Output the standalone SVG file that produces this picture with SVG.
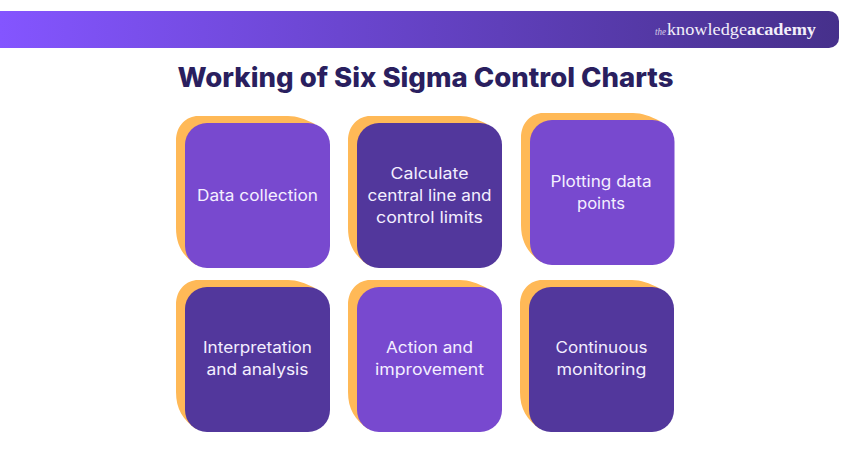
<svg xmlns="http://www.w3.org/2000/svg" width="850" height="450" viewBox="0 0 850 450">
<style>
.bk{fill:#ffb957}
.l{fill:#7849cf}
.d{fill:#52379c}
.t{font-family:"Inter","Liberation Sans",sans-serif;font-size:15.5px;fill:#f4efff;text-anchor:middle}
.logo{font-family:"Liberation Serif",serif;fill:#f3effa}
</style>
<defs>
<linearGradient id="g" x1="0" x2="1" y1="0" y2="0"><stop offset="0" stop-color="#8455ff"/><stop offset="1" stop-color="#46308b"/></linearGradient>
<path id="o" d="M-9 18C-9 2 2 -7 13 -7H103C112 -7 120 -4 130 1L60 70L11 142C-2 133 -9 122 -9 105Z"/>
</defs>
<rect width="850" height="450" fill="#fff"/>
<g id="banner">
<path d="M0 11H829a10 10 0 0 1 10 10V38a10 10 0 0 1 -10 10H0Z" fill="url(#g)"/>
<text class="logo" x="655" y="35" font-size="10" font-style="italic" opacity=".8" textLength="11" lengthAdjust="spacingAndGlyphs">the</text>
<text class="logo" x="667" y="35" font-size="17.5" textLength="80" lengthAdjust="spacingAndGlyphs">knowledge</text>
<text class="logo" x="747" y="35" font-size="17.5" font-weight="700" textLength="69" lengthAdjust="spacingAndGlyphs">academy</text>
</g>
<text id="title" x="425.5" y="87" font-family="Inter,'Liberation Sans',sans-serif" font-size="27" font-weight="800" fill="#2a1f5f" text-anchor="middle" textLength="496" lengthAdjust="spacingAndGlyphs">Working of Six Sigma Control Charts</text>
<g id="connectors"></g>
<g id="node1"><use href="#o" x="185" y="123" class="bk"/><rect x="185" y="123" width="145" height="145" rx="22" class="l"/><text class="t" x="257.5" y="201" textLength="121" lengthAdjust="spacingAndGlyphs">Data collection</text></g>
<g id="node2"><use href="#o" x="357" y="123" class="bk"/><rect x="357" y="123" width="145" height="145" rx="22" class="d"/><text class="t" x="429.5" y="179" textLength="78" lengthAdjust="spacingAndGlyphs">Calculate</text><text class="t" x="429.5" y="201" textLength="124" lengthAdjust="spacingAndGlyphs">central line and</text><text class="t" x="429.5" y="223" textLength="107" lengthAdjust="spacingAndGlyphs">control limits</text></g>
<g id="node3"><use href="#o" x="530" y="120" class="bk"/><rect x="530" y="120" width="144.500" height="145" rx="22" class="l"/><text class="t" x="601" y="187" textLength="101" lengthAdjust="spacingAndGlyphs">Plotting data</text><text class="t" x="601" y="209" textLength="48" lengthAdjust="spacingAndGlyphs">points</text></g>
<g id="node4"><use href="#o" x="185" y="287" class="bk"/><rect x="185" y="287" width="145" height="145" rx="22" class="d"/><text class="t" x="257.500" y="353" textLength="109" lengthAdjust="spacingAndGlyphs">Interpretation</text><text class="t" x="257.500" y="375" textLength="102" lengthAdjust="spacingAndGlyphs">and analysis</text></g>
<g id="node5"><use href="#o" x="357" y="287" class="bk"/><rect x="357" y="287" width="145" height="145" rx="22" class="l"/><text class="t" x="429.500" y="353" textLength="87" lengthAdjust="spacingAndGlyphs">Action and</text><text class="t" x="429.500" y="375" textLength="109" lengthAdjust="spacingAndGlyphs">improvement</text></g>
<g id="node6"><use href="#o" x="529" y="287" class="bk"/><rect x="529" y="287" width="145" height="145" rx="22" class="d"/><text class="t" x="601.500" y="353" textLength="92" lengthAdjust="spacingAndGlyphs">Continuous</text><text class="t" x="601.500" y="375" textLength="90" lengthAdjust="spacingAndGlyphs">monitoring</text></g>
</svg>
